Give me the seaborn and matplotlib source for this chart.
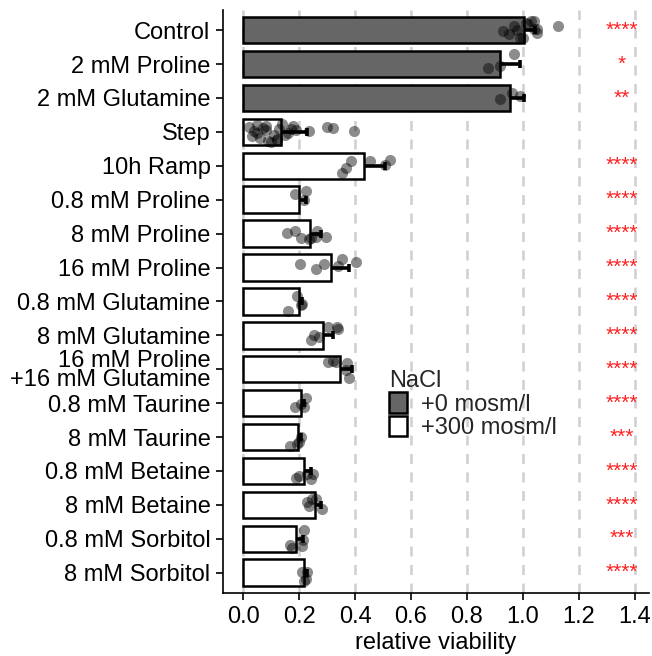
import numpy as np
import pandas as pd
import matplotlib
matplotlib.use("Agg")
import matplotlib.pyplot as plt
from matplotlib.patches import Patch
import seaborn as sns

# ---- data ----
labels = [
    "Control", "2 mM Proline", "2 mM Glutamine", "Step", "10h Ramp",
    "0.8 mM Proline", "8 mM Proline", "16 mM Proline", "0.8 mM Glutamine",
    "8 mM Glutamine", "16 mM Proline\n+16 mM Glutamine", "0.8 mM Taurine",
    "8 mM Taurine", "0.8 mM Betaine", "8 mM Betaine", "0.8 mM Sorbitol",
    "8 mM Sorbitol",
]
nacl = ["+0 mosm/l"] * 3 + ["+300 mosm/l"] * 14
mean_viab = [1.005, 0.92, 0.955, 0.137, 0.432, 0.20, 0.24, 0.313, 0.199,
             0.287, 0.345, 0.207, 0.195, 0.219, 0.258, 0.19, 0.219]
sd_viab = [0.04, 0.07, 0.05, 0.09, 0.075, 0.025, 0.04, 0.065, 0.013,
           0.035, 0.045, 0.012, 0.012, 0.023, 0.02, 0.025, 0.011]
stars = ["****", "*", "**", "", "****", "****", "****", "****", "****",
         "****", "****", "****", "***", "****", "****", "***", "****"]

pts_control = [0.93, 0.95, 0.97, 0.98, 0.99, 1.0, 1.01, 1.02, 1.03, 1.04,
               1.04, 1.05, 1.05, 1.125]
pts_pro2 = [0.875, 0.92, 0.967]
pts_gln2 = [0.92, 0.96, 0.99]
pts_step = [0.02, 0.03, 0.04, 0.05, 0.05, 0.06, 0.07, 0.08, 0.08, 0.09, 0.10,
            0.11, 0.12, 0.12, 0.13, 0.14, 0.15, 0.16, 0.17, 0.18, 0.19, 0.234,
            0.30, 0.32, 0.395]
pts_ramp = [0.354, 0.367, 0.384, 0.455, 0.506, 0.526]
pts_pro08 = [0.187, 0.219, 0.225]
pts_pro8 = [0.156, 0.187, 0.207, 0.236, 0.242, 0.26, 0.265, 0.296]
pts_pro16 = [0.203, 0.262, 0.29, 0.34, 0.355, 0.402]
pts_gln08 = [0.162, 0.194, 0.207, 0.212]
pts_gln8 = [0.242, 0.254, 0.272, 0.302, 0.337, 0.34]
pts_mix = [0.302, 0.322, 0.331, 0.367, 0.372, 0.378]
pts_tau08 = [0.187, 0.207, 0.219, 0.225]
pts_tau8 = [0.166, 0.192, 0.201, 0.207]
pts_bet08 = [0.19, 0.199, 0.23, 0.242, 0.251]
pts_bet8 = [0.23, 0.237, 0.248, 0.26, 0.281]
pts_sorb08 = [0.166, 0.175, 0.21, 0.215, 0.219]
pts_sorb8 = [0.212, 0.219, 0.225, 0.23]

point_groups = [pts_control, pts_pro2, pts_gln2, pts_step, pts_ramp,
                pts_pro08, pts_pro8, pts_pro16, pts_gln08, pts_gln8, pts_mix,
                pts_tau08, pts_tau8, pts_bet08, pts_bet8, pts_sorb08, pts_sorb8]

df_bar = pd.DataFrame({"condition": labels, "NaCl": nacl,
                       "mean": mean_viab, "sd": sd_viab})
df_pts = pd.DataFrame({
    "condition": [lab for lab, g in zip(labels, point_groups) for _ in g],
    "value": [v for g in point_groups for v in g],
})

# ---- style ----
sns.set_theme(style="white")
plt.rcParams["font.family"] = ["Liberation Sans", "DejaVu Sans"]
FS = 17
FILL = {"+0 mosm/l": "#666666", "+300 mosm/l": "white"}

fig = plt.figure(figsize=(6.52, 6.56), dpi=100)
ax = fig.add_axes([0.342, 0.096, 0.653, 0.889])

ax.set_axisbelow(True)
ax.xaxis.grid(True, color="#cfcfcf", linestyle=(0, (4.0, 3.4)), linewidth=1.8)
ax.yaxis.grid(False)

# error bars first so the bars hide the lower half
ypos = np.arange(len(labels))
ax.errorbar(x=df_bar["mean"], y=ypos, xerr=df_bar["sd"], fmt="none",
            ecolor="black", elinewidth=2.6, capsize=3.0, capthick=2.6, zorder=1.5)

sns.barplot(data=df_bar, x="mean", y="condition", hue="NaCl", order=labels,
            palette=FILL, dodge=False, width=0.78, edgecolor="black",
            linewidth=1.8, errorbar=None, legend=False, ax=ax, zorder=2)

np.random.seed(3)
sns.stripplot(data=df_pts, x="value", y="condition", order=labels,
              color="black", alpha=0.45, size=8, jitter=0.3, linewidth=0,
              legend=False, ax=ax, zorder=4)

for i, s in enumerate(stars):
    if s:
        ax.text(1.355, i, s, color="#ff2020", ha="center", va="center", fontsize=15)

ax.set_xlim(-0.072, 1.45)
ax.set_ylim(16.6, -0.6)
ax.set_xticks(np.arange(0, 1.41, 0.2))
ax.set_xticklabels([f"{t:.1f}" for t in np.arange(0, 1.41, 0.2)])
ax.tick_params(axis="both", direction="out", length=5, width=1.2,
               color="black", labelsize=FS, labelcolor="black", pad=4)
ax.tick_params(axis="x", bottom=True)
ax.tick_params(axis="y", left=True)
for lab in ax.get_yticklabels():
    lab.set_linespacing(0.85)

for side in ["top", "right"]:
    ax.spines[side].set_visible(False)
for side in ["left", "bottom"]:
    ax.spines[side].set_color("black")
    ax.spines[side].set_linewidth(1.2)

ax.set_xlabel("relative viability", fontsize=FS, color="black", labelpad=3)
ax.set_ylabel("")

handles = [Patch(facecolor=FILL[k], edgecolor="black", linewidth=1.8, label=k)
           for k in ["+0 mosm/l", "+300 mosm/l"]]
leg = ax.legend(handles=handles, title="NaCl", loc="upper left",
                bbox_to_anchor=(0.39, 0.382), frameon=False, fontsize=FS,
                title_fontsize=FS, handlelength=0.75, handleheight=0.95,
                labelspacing=0.0, handletextpad=0.6, borderaxespad=0,
                borderpad=0, alignment="left")

fig.savefig("out.png", dpi=100)
